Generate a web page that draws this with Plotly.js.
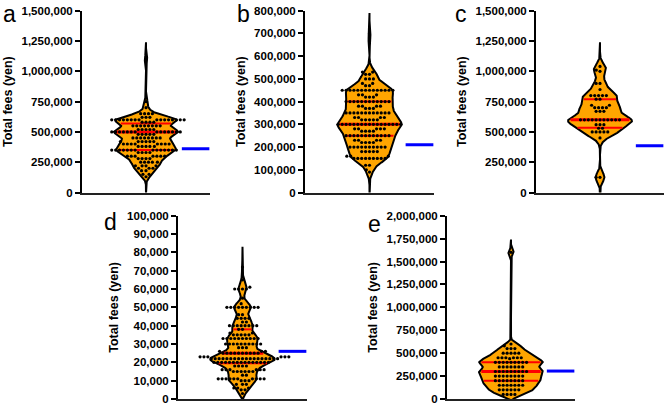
<!DOCTYPE html>
<html><head><meta charset="utf-8">
<script src="https://cdn.plot.ly/plotly-3.0.1.min.js"></script>
<style>html,body{margin:0;padding:0;background:#fff}#chart{width:665px;height:404px}</style>
</head><body><div id="chart"></div>
<script>
// ---------------- DATA ----------------
const panelLabels = ['a', 'b', 'c', 'd', 'e'];
const axisTitle = 'Total fees (yen)';

const feesA = [
  1100000, 750000, 700000,
  650000, 650000, 650000, 650000,
  620000, 620000, 620000,
  600000, 600000, 600000, 600000, 600000, 600000, 600000, 600000,
  600000, 600000, 600000, 600000, 600000, 600000, 600000, 600000,
  580000, 580000, 580000, 580000,
  550000, 550000, 550000, 550000, 550000, 550000, 550000, 550000,
  520000, 520000, 520000, 520000, 520000,
  500000, 500000, 500000, 500000, 500000, 500000, 500000,
  500000, 500000, 500000, 500000, 500000, 500000, 500000,
  480000, 480000, 480000, 480000, 480000,
  450000, 450000, 450000, 450000, 450000, 450000, 450000, 450000,
  420000, 420000, 420000, 420000, 420000, 420000,
  400000, 400000, 400000, 400000, 400000, 400000, 400000, 400000,
  380000, 380000, 380000, 380000, 380000,
  350000, 350000, 350000, 350000, 350000, 350000, 350000,
  350000, 350000, 350000, 350000, 350000, 350000, 350000,
  330000, 330000, 330000, 330000,
  300000, 300000, 300000, 300000, 300000, 300000, 300000,
  280000, 280000, 280000, 280000,
  250000, 250000, 250000, 250000, 250000,
  220000, 220000, 220000, 220000,
  200000, 200000, 200000,
  180000, 180000, 150000, 150000, 130000
];

const feesB = [
  680000,
  530000, 530000, 520000, 520000, 500000, 500000, 500000, 480000, 480000, 470000, 470000,
  450000, 450000, 450000, 450000, 450000, 450000, 450000,
  450000, 450000, 450000, 450000, 450000, 450000, 450000,
  430000, 430000, 430000, 420000, 420000, 420000,
  400000, 400000, 400000, 400000, 400000, 400000,
  400000, 400000, 400000, 400000, 400000, 400000,
  380000, 380000, 380000, 380000, 370000, 370000, 370000,
  350000, 350000, 350000, 350000, 350000, 350000,
  350000, 350000, 350000, 350000, 350000, 350000,
  330000, 330000, 330000, 330000, 320000, 320000, 320000, 320000, 320000,
  300000, 300000, 300000, 300000, 300000, 300000, 300000, 300000, 300000,
  300000, 300000, 300000, 300000, 300000, 300000, 300000, 300000,
  280000, 280000, 280000, 280000, 280000, 270000, 270000, 270000, 270000,
  250000, 250000, 250000, 250000, 250000, 250000,
  250000, 250000, 250000, 250000, 250000, 250000,
  230000, 230000, 230000, 230000, 220000, 220000, 220000, 220000,
  200000, 200000, 200000, 200000, 200000, 200000, 200000, 200000, 200000, 200000,
  180000, 180000, 180000, 180000, 180000, 160000, 160000, 160000,
  150000, 150000, 150000, 150000, 150000, 150000, 150000, 150000, 150000,
  120000, 120000, 100000, 90000
];

const feesC = [
  1040000, 1010000, 1000000,
  900000, 900000, 850000,
  800000, 800000, 800000, 800000, 800000,
  770000, 770000, 720000, 720000,
  700000, 700000, 700000, 700000,
  670000, 670000, 670000,
  600000, 600000, 600000, 600000, 600000, 600000,
  600000, 600000, 600000, 600000, 600000,
  560000, 560000, 560000, 530000, 530000,
  500000, 500000, 500000, 500000, 500000,
  450000, 125000, 125000
];

const feesD = [
  72000, 65000, 61000, 60000, 60000, 60000, 60000, 55000, 52000,
  50000, 50000, 50000, 50000, 50000, 50000, 50000, 50000, 50000,
  46000, 46000, 44000, 44000, 44000, 44000, 42000, 42000,
  40000, 40000, 40000, 40000, 40000, 40000, 40000, 40000,
  38000, 38000, 36000, 36000, 35000, 35000, 35000, 35000, 35000,
  33000, 33000, 33000, 33000, 33000, 33000, 33000, 33000, 33000, 33000,
  30000, 30000, 30000, 30000, 30000, 30000, 30000, 30000, 30000, 30000,
  28000, 28000, 28000, 26000, 26000, 26000,
  25000, 25000, 25000, 25000, 25000, 25000, 25000, 25000, 25000, 25000,
  23000, 23000, 23000, 23000, 23000, 23000,
  22000, 22000, 22000, 22000, 22000, 22000, 22000, 22000, 22000,
  22000, 22000, 22000, 22000, 22000, 22000, 22000, 22000, 22000,
  20000, 20000, 20000, 20000, 20000, 20000, 20000, 20000,
  20000, 20000, 20000, 20000, 20000, 20000, 20000,
  18000, 18000, 18000, 18000,
  16000, 16000, 16000, 16000, 16000, 16000,
  15000, 15000, 15000, 15000, 15000, 15000,
  13000, 13000,
  11000, 11000, 11000, 11000, 11000, 11000, 11000, 11000, 11000, 11000,
  10000, 10000, 10000, 8000, 8000, 8000, 6000, 6000, 6000, 5000, 5000, 3000
];

const feesE = [
  1600000,
  600000, 580000, 550000, 550000, 550000,
  500000, 500000, 500000, 500000, 500000,
  450000, 450000, 450000, 450000, 450000, 450000, 440000,
  400000, 400000, 400000, 400000, 400000, 400000, 400000, 400000, 400000,
  350000, 350000, 350000, 350000, 350000, 350000, 350000,
  300000, 300000, 300000, 300000, 300000, 300000, 300000, 300000, 300000,
  250000, 250000, 250000, 250000, 250000, 250000, 250000, 250000,
  200000, 200000, 200000, 200000, 200000, 200000, 200000, 200000,
  150000, 150000, 150000, 150000, 150000, 150000, 150000,
  100000, 100000, 100000, 100000, 100000, 100000,
  50000, 50000, 50000, 50000
];

const medians        = [500000, 300000, 600000, 25000, 300000];
const lowerQuartiles = [350000, 250000, 535000, 19500, 200000];
const upperQuartiles = [570000, 400000, 770000, 38000, 400000];
const referenceFees  = [360000, 210000, 385000, 26000, 305000];   // blue lines
const axisMax        = [1500000, 800000, 1500000, 100000, 2000000];
const axisStep       = [250000, 100000, 250000, 10000, 250000];

// ---------------- LAYOUT / STYLE CONFIG ----------------
const W = 665, H = 404;
const panels = [
  {fees: feesA, x0: 82,  x1: 210, y0: 10.7,  y1: 192.5, bw: 28000, label: [9, 0]},
  {fees: feesB, x0: 305, x1: 434, y0: 10.7,  y1: 192.5, bw: 22000, label: [243, 0]},
  {fees: feesC, x0: 536, x1: 664, y0: 10.7,  y1: 192.5, bw: 40000, label: [461, 0]},
  {fees: feesD, x0: 178, x1: 307, y0: 215.7, y1: 399,   bw: 2200,  label: [110, 208]},
  {fees: feesE, x0: 447, x1: 575, y0: 215.7, y1: 399,   bw: 28000, label: [374, 210]}
];
const HALF_W = 0.5;     // max half-width of violin in x units (x range [-1,1])
const DOT_D = 3.9;      // beeswarm spacing, px
const FONT = 'Liberation Sans, Arial, sans-serif';

function kde(values, h, lo, hi, n) {
  const ys = [], ds = [];
  for (let k = 0; k <= n; k++) {
    const y = lo + (hi - lo) * k / n;
    let s = 0;
    for (const v of values) { const z = (y - v) / h; s += Math.exp(-0.5 * z * z); }
    ys.push(y); ds.push(s);
  }
  return {ys, ds};
}
function density(values, h, y) {
  let s = 0;
  for (const v of values) { const z = (y - v) / h; s += Math.exp(-0.5 * z * z); }
  return s;
}
function beeswarm(values, pxPerUnit, d) {
  const idx = values.map((v, i) => i).sort((a, b) => values[a] - values[b]);
  const placed = [];
  const xs = new Array(values.length);
  for (const i of idx) {
    const y = values[i] * pxPerUnit;
    const near = placed.filter(p => Math.abs(p.y - y) < d);
    const cands = [0];
    for (const p of near) {
      const dx = Math.sqrt(d * d - (p.y - y) * (p.y - y));
      cands.push(p.x + dx, p.x - dx);
    }
    cands.sort((a, b) => (Math.abs(a) - Math.abs(b)) || (a - b));
    let chosen = 0;
    for (const c of cands) {
      if (near.every(p => (p.x - c) ** 2 + (p.y - y) ** 2 >= d * d - 1e-6)) { chosen = c; break; }
    }
    placed.push({x: chosen, y}); xs[i] = chosen;
  }
  return xs;
}

const traces = [];
const layout = {
  width: W, height: H, margin: {l: 0, r: 0, t: 0, b: 0},
  paper_bgcolor: '#fff', plot_bgcolor: 'rgba(0,0,0,0)', showlegend: false,
  font: {family: FONT, color: '#000'},
  annotations: []
};

panels.forEach((p, k) => {
  const n = k + 1;
  const xa = 'x' + (n === 1 ? '' : n), ya = 'y' + (n === 1 ? '' : n);
  const xKey = 'xaxis' + (n === 1 ? '' : n), yKey = 'yaxis' + (n === 1 ? '' : n);
  const vals = p.fees;
  const h = p.bw;
  const lo = Math.min(...vals) - 5 * h, hi = Math.max(...vals) + 5 * h;
  const {ys, ds} = kde(vals, h, lo, hi, 700);
  const dmax = Math.max(...ds);
  const hw = ds.map(d => HALF_W * d / dmax);
  const vx = hw.concat(hw.slice().reverse().map(v => -v));
  const vy = ys.concat(ys.slice().reverse());
  traces.push({type: 'scatter', mode: 'lines', x: vx, y: vy, xaxis: xa, yaxis: ya,
    fill: 'toself', fillcolor: '#FFA500', line: {color: '#000', width: 2}, hoverinfo: 'skip'});

  // median & quartile lines
  [[lowerQuartiles[k], 2], [upperQuartiles[k], 2], [medians[k], 3]].forEach(([q, w]) => {
    const qw = HALF_W * density(vals, h, q) / dmax * 0.93;
    traces.push({type: 'scatter', mode: 'lines', x: [-qw, qw], y: [q, q], xaxis: xa, yaxis: ya,
      line: {color: '#FF0000', width: w}, hoverinfo: 'skip'});
  });

  // beeswarm dots
  const plotW = p.x1 - p.x0, plotH = p.y1 - p.y0;
  const pxPerUnitY = plotH / axisMax[k];
  const pxPerX = plotW / 2;
  const xs = beeswarm(vals, pxPerUnitY, DOT_D).map(v => v / pxPerX);
  traces.push({type: 'scatter', mode: 'markers', x: xs, y: vals, xaxis: xa, yaxis: ya,
    marker: {color: '#000', size: 3.2}, hoverinfo: 'skip'});

  // blue reference line
  traces.push({type: 'scatter', mode: 'lines', x: [0.56, 0.99], y: [referenceFees[k], referenceFees[k]],
    xaxis: xa, yaxis: ya, line: {color: '#0000FF', width: 3}, hoverinfo: 'skip'});

  const tv = [];
  for (let v = 0; v <= axisMax[k] + 1e-9; v += axisStep[k]) tv.push(v);

  layout[xKey] = {domain: [p.x0 / W, p.x1 / W], range: [-1, 1], anchor: ya,
    showline: true, linecolor: '#222', linewidth: 2, showticklabels: false, ticks: '',
    showgrid: false, zeroline: false, fixedrange: true};
  layout[yKey] = {domain: [1 - p.y1 / H, 1 - p.y0 / H], range: [0, axisMax[k]], anchor: xa,
    tickvals: tv, tickformat: ',d', showline: true, linecolor: '#000', linewidth: 2,
    ticks: 'outside', ticklen: 5, tickwidth: 2, tickcolor: '#000', ticklabeloverflow: 'allow',
    showgrid: false, zeroline: false, fixedrange: true,
    tickfont: {family: FONT, size: 11.5, weight: 'bold', color: '#000'},
    title: {text: axisTitle, standoff: 6,
      font: {family: FONT, size: 12.5, weight: 'bold', color: '#000'}}};

  layout.annotations.push({text: panelLabels[k], xref: 'paper', yref: 'paper',
    x: p.label[0] / W, y: 1 - p.label[1] / H, xanchor: 'center', yanchor: 'top',
    borderpad: 0, showarrow: false, font: {family: FONT, size: 23, color: '#000'}});
});

Plotly.newPlot('chart', traces, layout, {staticPlot: true, displayModeBar: false});
</script>
</body></html>
